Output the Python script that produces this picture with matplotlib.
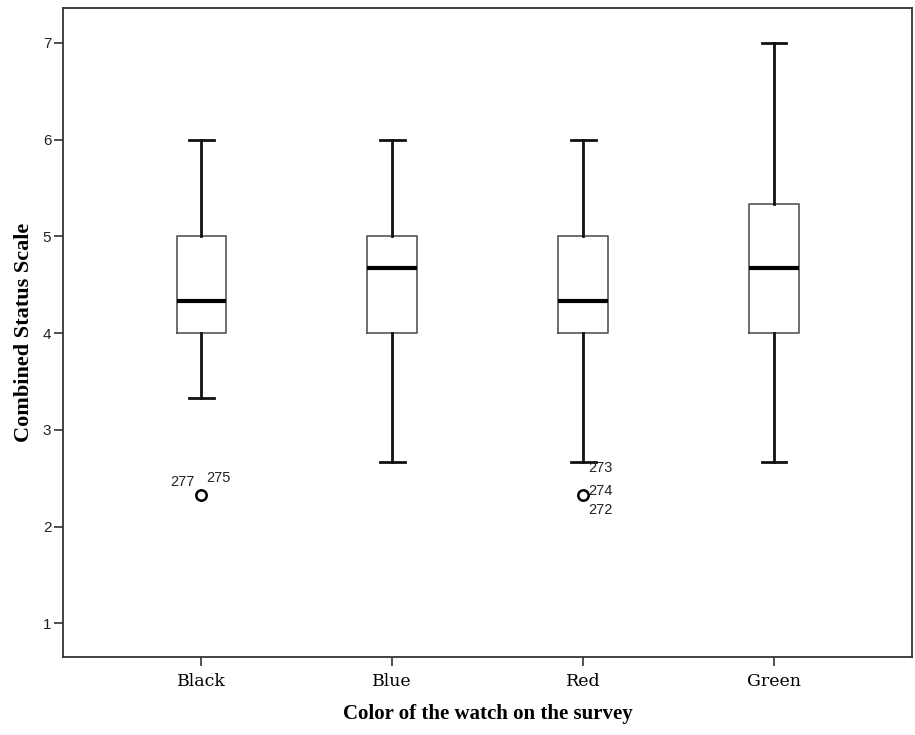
import matplotlib
matplotlib.use("Agg")
import matplotlib.pyplot as plt

colors = ["Black", "Blue", "Red", "Green"]
whislo = [3.33, 2.67, 2.67, 2.67]
q1 = [4.0, 4.0, 4.0, 4.0]
med = [4.33, 4.67, 4.33, 4.67]
q3 = [5.0, 5.0, 5.0, 5.33]
whishi = [6.0, 6.0, 6.0, 7.0]
fliers = [[2.33], [], [2.33], []]

stats = []
for i, name in enumerate(colors):
    stats.append({"label": name, "whislo": whislo[i], "q1": q1[i], "med": med[i],
                  "q3": q3[i], "whishi": whishi[i], "fliers": fliers[i]})

fig = plt.figure(figsize=(9.15, 7.35), dpi=100)
ax = fig.add_axes([0.069, 0.106, 0.928, 0.883])

ax.bxp(stats, positions=range(len(colors)), widths=0.26, showfliers=True,
       boxprops=dict(color="#555555", linewidth=1.2),
       whiskerprops=dict(color="#111111", linewidth=2),
       capprops=dict(color="#111111", linewidth=2),
       medianprops=dict(color="black", linewidth=3),
       flierprops=dict(marker="o", markerfacecolor="white", markeredgecolor="black",
                       markersize=7.5, markeredgewidth=1.8),
       capwidths=0.13)

# case numbers next to the outliers
lab = dict(fontsize=10.5, family="Liberation Sans", color="#222222")
ax.text(-0.10, 2.42, "277", ha="center", va="baseline", **lab)
ax.text(0.09, 2.46, "275", ha="center", va="baseline", **lab)
ax.text(2.025, 2.60, "273", ha="left", va="center", **lab)
ax.text(2.025, 2.37, "274", ha="left", va="center", **lab)
ax.text(2.025, 2.175, "272", ha="left", va="center", **lab)

ax.set_xlim(-0.725, 3.725)
ax.set_ylim(0.65, 7.36)
ax.set_yticks([1, 2, 3, 4, 5, 6, 7])
ax.set_xticks(range(len(colors)))
ax.set_xticklabels(colors, family="DejaVu Serif", fontsize=12.5)
for t in ax.get_yticklabels():
    t.set_family("Liberation Sans")
    t.set_fontsize(11)
    t.set_color("#222222")
ax.tick_params(axis="both", direction="out", length=6.5, width=1.2, color="#333333")
ax.tick_params(axis="x", pad=5)
ax.tick_params(axis="y", pad=2)

for s in ax.spines.values():
    s.set_linewidth(1.3)
    s.set_color("#333333")

ax.set_xlabel("Color of the watch on the survey", family="Liberation Serif",
              fontweight="bold", fontsize=15, labelpad=10)
ax.set_ylabel("Combined Status Scale", family="Liberation Serif",
              fontweight="bold", fontsize=16, labelpad=6)

fig.savefig("out.png", dpi=100)
